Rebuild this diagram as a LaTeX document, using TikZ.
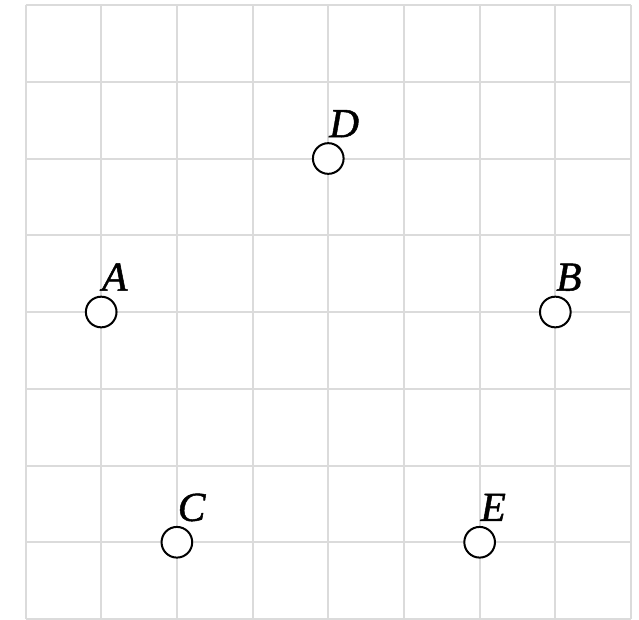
\documentclass[tikz,border=0pt]{standalone}
\usepackage{fontspec}
\newfontfamily\labfont[FakeBold=1.2]{Liberation Serif}
\begin{document}
\begin{tikzpicture}[x={(0.75pt,0)},y={(0,-0.75pt)},
  gridline/.style={draw=black!14,line width=1.5pt},
  pt/.style={circle,draw=black,fill=white,line width=1.5pt,minimum size=23pt,inner sep=0pt},
  lab/.style={anchor=base west,inner sep=0pt,font=\labfont\itshape\fontsize{31}{33}\selectfont}]
\useasboundingbox (0,0) rectangle (639,619);
\foreach \i in {0,...,8} {
  \draw[gridline] ({25.5+\i*75.69},5) -- ({25.5+\i*75.69},619);
  \draw[gridline] (25.5,{5+\i*76.75}) -- (631,{5+\i*76.75});
}
\node[pt] (A) at ({25.5+1*75.69},{5+4*76.75}) {};
\node[pt] (B) at ({25.5+7*75.69},{5+4*76.75}) {};
\node[pt] (D) at ({25.5+4*75.69},{5+2*76.75}) {};
\node[pt] (C) at ({25.5+2*75.69},{5+7*76.75}) {};
\node[pt] (E) at ({25.5+6*75.69},{5+7*76.75}) {};
\node[lab] (lA) at ([shift={(0.5pt,16pt)}]A.center) {A};
\node[lab] (lB) at ([shift={(0.5pt,16pt)}]B.center) {B};
\node[lab] (lD) at ([shift={(0.5pt,16pt)}]D.center) {D};
\node[lab] (lC) at ([shift={(0.5pt,16pt)}]C.center) {C};
\node[lab] (lE) at ([shift={(0.5pt,16pt)}]E.center) {E};
\end{tikzpicture}
\end{document}
